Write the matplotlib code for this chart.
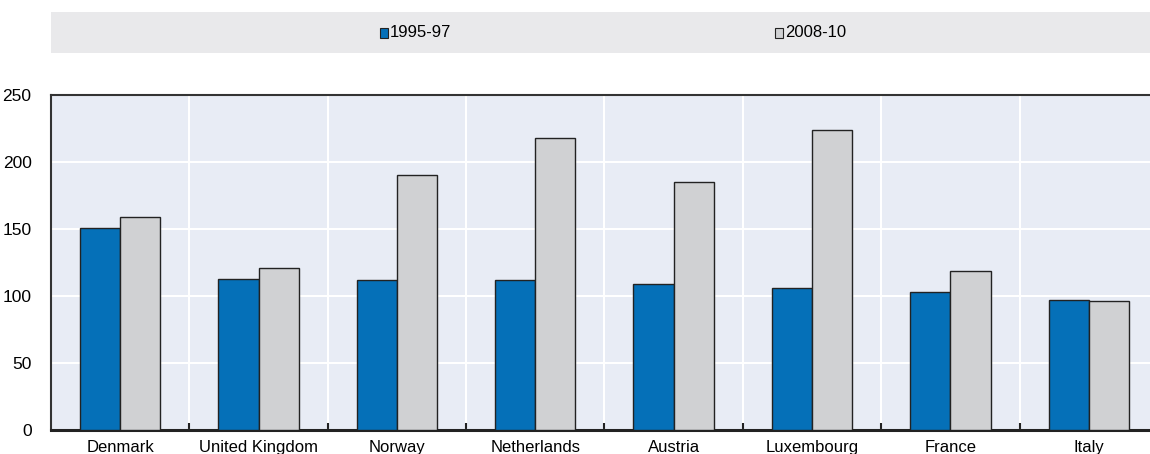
import matplotlib.pyplot as plt
import numpy as np

### data
countries = ["Denmark", "United Kingdom", "Norway", "Netherlands",
             "Austria", "Luxembourg", "France", "Italy"]
p1995_97 = [151, 113, 112, 112, 109, 106, 103, 97]
p2008_10 = [159, 121, 190, 218, 185, 224, 119, 96]
series_labels = ["1995-97", "2008-10"]
yticks = [0, 50, 100, 150, 200, 250]

plt.rcParams['font.family'] = ['Liberation Sans Narrow', 'Liberation Sans', 'DejaVu Sans']

fig = plt.figure(figsize=(11.5, 4.54), dpi=100)
### the plot area runs a little past the right edge of the picture
ax = fig.add_axes([0.0443, 0.0529, 0.9626, 0.7379])

blue = "#0570b8"
grey = "#d0d1d3"
edge = "#222222"
x = np.arange(len(countries))
w = 0.29

ax.set_facecolor("#e8ecf5")
ax.bar(x - w / 2, p1995_97, w, color=blue, edgecolor=edge, linewidth=1.0, zorder=3)
ax.bar(x + w / 2, p2008_10, w, color=grey, edgecolor=edge, linewidth=1.0, zorder=3)

ax.set_xlim(-0.5, len(countries) - 0.5)
ax.set_ylim(0, 250)
ax.set_yticks(yticks)
ax.set_xticks(x)
ax.set_xticklabels(countries)
ax.set_xticks(np.arange(len(countries) - 1) + 0.5, minor=True)

### grid: white horizontal lines at the y ticks, vertical ones between countries
ax.grid(True, axis="y", which="major", color="white", linewidth=1.5, zorder=0)
ax.grid(True, axis="x", which="minor", color="white", linewidth=1.5, zorder=0)
ax.set_axisbelow(True)

ax.tick_params(axis="x", which="major", length=0, labelsize=12, pad=7)
ax.tick_params(axis="x", which="minor", direction="in", length=5, width=1.5, color="#222222")
ax.tick_params(axis="y", length=0, labelsize=12.5, pad=14)

for s in ["top", "left"]:
    ax.spines[s].set_color("#333333")
    ax.spines[s].set_linewidth(1.5)
ax.spines["bottom"].set_color("#222222")
ax.spines["bottom"].set_linewidth(2.2)
ax.spines["right"].set_visible(False)

### legend band on top
band = fig.add_axes([0.0443, 0.884, 0.9557, 0.090])
band.set_facecolor("#e9e9eb")
band.set_xticks([])
band.set_yticks([])
for s in band.spines.values():
    s.set_visible(False)
band.set_xlim(0, 1)
band.set_ylim(0, 1)
for xpos, col, lab in [(0.2990, blue, series_labels[0]), (0.6585, grey, series_labels[1])]:
    band.add_patch(plt.Rectangle((xpos, 0.35), 0.008, 0.26, facecolor=col,
                                 edgecolor=edge, linewidth=0.8))
    band.text(xpos + 0.0095, 0.49, lab, fontsize=12, va="center", ha="left")

plt.savefig("out.png", dpi=100)
